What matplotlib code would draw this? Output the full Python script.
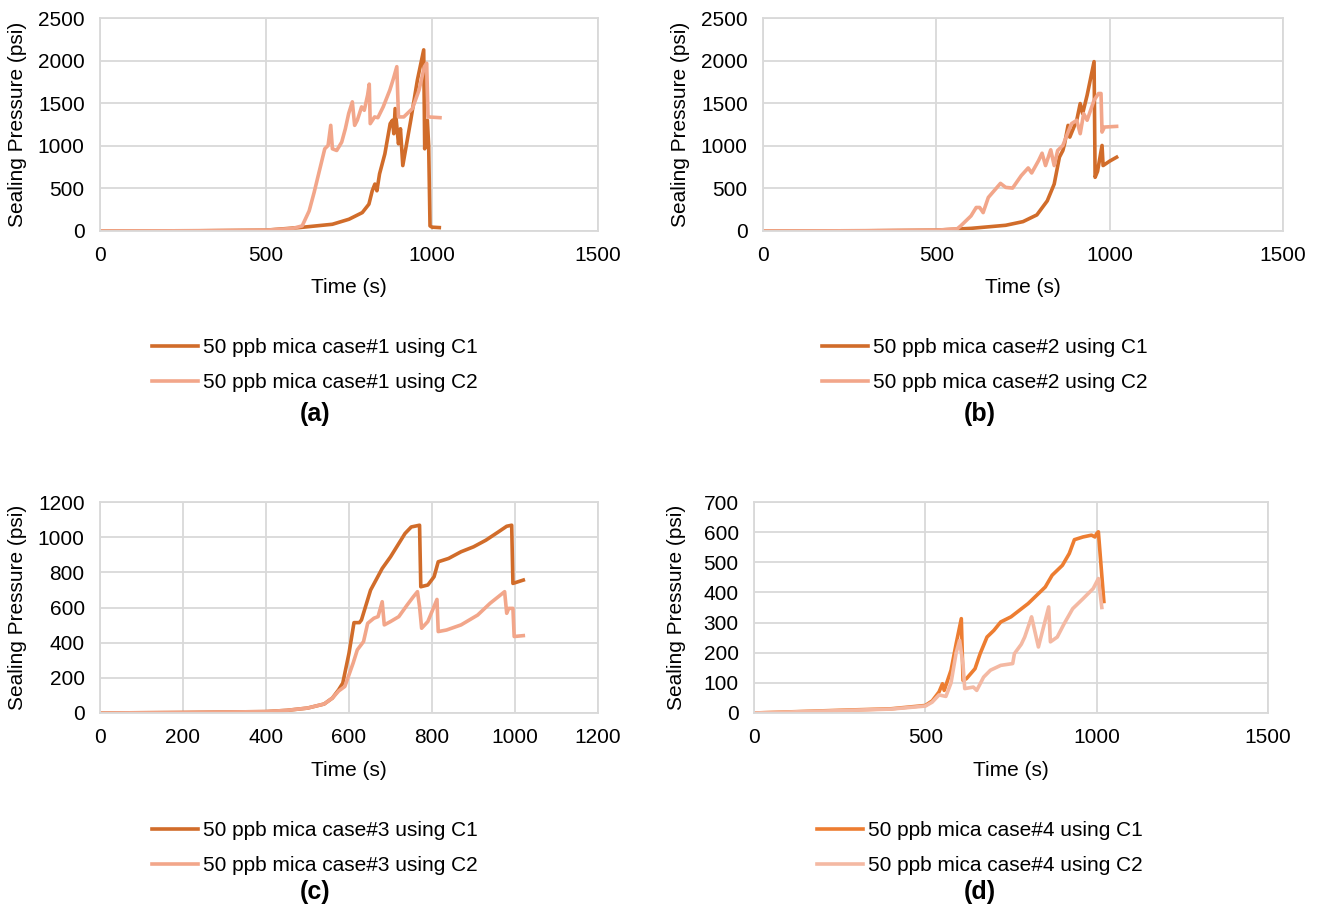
import numpy as np
import matplotlib.pyplot as plt

# ============================================================
# DATA
# ============================================================

# (a) case#1
t_a1 = [0, 300, 500, 600, 700, 750, 790, 810, 820, 828, 834, 842, 858, 874, 881, 885,
        889, 899, 905, 912, 936, 956, 975, 978, 982, 986, 990, 994, 1000, 1022]
p_a1 = [0, 3, 10, 40, 79, 138, 216, 315, 472, 551, 472, 670, 905, 1260, 1300, 1142,
        1437, 1024, 1200, 768, 1300, 1772, 2126, 965, 1240, 1300, 1000, 60, 45, 40]
t_a2 = [0, 300, 500, 580, 609, 630, 645, 656, 677, 687, 695, 700, 713, 728, 739, 749,
        760, 767, 775, 788, 796, 806, 811, 814, 827, 837, 853, 873, 884, 894, 899, 915,
        941, 961, 977, 984, 988, 1024]
p_a2 = [0, 3, 10, 30, 60, 236, 453, 630, 965, 1004, 1240, 965, 945, 1043, 1200, 1378,
        1516, 1240, 1300, 1457, 1417, 1594, 1724, 1260, 1339, 1330, 1457, 1654, 1791, 1929, 1339, 1339,
        1437, 1654, 1929, 1969, 1339, 1330]

# (b) case#2
t_b1 = [0, 300, 500, 600, 700, 750, 790, 820, 840, 855, 865, 870, 880, 885, 905, 915,
        922, 935, 955, 958, 965, 978, 981, 1000, 1020]
p_b1 = [0, 3, 10, 31, 67, 110, 189, 354, 551, 866, 945, 1024, 1240, 1102, 1300, 1496,
        1378, 1594, 1988, 630, 700, 1004, 768, 820, 866]
t_b2 = [0, 300, 500, 560, 570, 580, 600, 615, 625, 635, 650, 660, 685, 700, 720, 745,
        765, 775, 795, 805, 815, 830, 840, 850, 865, 880, 890, 905, 915, 925, 935, 955,
        968, 975, 978, 985, 1020]
p_b2 = [0, 3, 10, 25, 59, 98, 177, 276, 276, 216, 394, 441, 559, 512, 504, 650,
        740, 681, 827, 913, 768, 953, 768, 945, 1004, 1161, 1260, 1300, 1142, 1378, 1300, 1535,
        1614, 1614, 1161, 1220, 1228]

# (c) case#3
t_c1 = [0, 200, 400, 450, 500, 540, 560, 575, 585, 600, 612, 625, 630, 652, 665, 680,
        700, 715, 735, 750, 770, 773, 790, 805, 815, 840, 870, 900, 930, 960, 980, 992,
        995, 1020]
p_c1 = [0, 3, 8, 15, 28, 51, 85, 132, 170, 340, 514, 514, 529, 699, 756, 822,
        888, 945, 1021, 1058, 1068, 718, 728, 775, 860, 879, 917, 945, 983, 1030, 1062, 1068,
        737, 756]
t_c2 = [0, 200, 400, 450, 500, 540, 560, 575, 590, 610, 620, 635, 645, 660, 670, 680,
        685, 700, 720, 740, 755, 765, 770, 775, 790, 812, 815, 835, 870, 910, 940, 975,
        980, 985, 995, 998, 1020]
p_c2 = [0, 3, 8, 15, 28, 51, 85, 125, 151, 284, 359, 406, 510, 539, 548, 633,
        501, 520, 548, 614, 661, 690, 605, 482, 520, 646, 463, 472, 501, 557, 624, 690,
        567, 595, 595, 435, 440]

# (d) case#4
t_d1 = [0, 250, 400, 500, 520, 540, 550, 555, 575, 590, 605, 610, 620, 645, 660, 680,
        700, 720, 750, 775, 800, 830, 850, 870, 900, 920, 935, 960, 985, 995, 1000, 1005,
        1021]
p_d1 = [0, 9, 14, 25, 40, 70, 97, 75, 142, 230, 313, 108, 114, 147, 197, 252,
        274, 302, 319, 341, 363, 396, 418, 457, 490, 529, 575, 584, 590, 584, 595, 601,
        370]
t_d2 = [0, 250, 400, 500, 520, 540, 560, 575, 590, 600, 610, 615, 640, 650, 670, 690,
        720, 755, 760, 780, 790, 805, 810, 830, 860, 865, 885, 905, 930, 960, 990, 1005,
        1015]
p_d2 = [0, 8, 13, 23, 36, 60, 55, 100, 200, 241, 160, 81, 86, 75, 119, 142,
        158, 164, 197, 228, 252, 302, 319, 219, 352, 236, 252, 296, 346, 379, 413, 446,
        350]

PANELS = [
    dict(tag="(a)", case="case#1", s1=(t_a1, p_a1), s2=(t_a2, p_a2),
         xmax=1500, xstep=500, ymax=2500, ystep=500),
    dict(tag="(b)", case="case#2", s1=(t_b1, p_b1), s2=(t_b2, p_b2),
         xmax=1500, xstep=500, ymax=2500, ystep=500),
    dict(tag="(c)", case="case#3", s1=(t_c1, p_c1), s2=(t_c2, p_c2),
         xmax=1200, xstep=200, ymax=1200, ystep=200),
    dict(tag="(d)", case="case#4", s1=(t_d1, p_d1), s2=(t_d2, p_d2),
         xmax=1500, xstep=500, ymax=700, ystep=100),
]

# ============================================================
# LAYOUT (pixels on a 1317x908 canvas)
# ============================================================

W, H = 1317, 908
AX_BOX   = [(100, 18, 598, 231), (763, 18, 1283, 231),
            (100, 502, 598, 713), (754, 502, 1268, 713)]
YLAB_X   = [18, 681, 18, 676]
XLAB_Y   = [287, 287, 770, 770]
LEG_POS  = [(152, 365), (822, 365), (152, 848), (817, 848)]
TAG_POS  = [(315, 414), (980, 414), (315, 892), (980, 892)]
COLORS   = [("#D16C2A", "#F2A68A"), ("#D16C2A", "#F2A68A"),
            ("#D16C2A", "#F2A68A"), ("#ED7D31", "#F4B9A3")]

GRID = "#D9D9D9"
FS = 15

plt.rcParams["font.family"] = ["Liberation Sans", "DejaVu Sans"]

fig = plt.figure(figsize=(W / 100, H / 100), dpi=100)

for i, p in enumerate(PANELS):
    x0, y0, x1, y1 = AX_BOX[i]
    ax = fig.add_axes([x0 / W, 1 - y1 / H, (x1 - x0) / W, (y1 - y0) / H])
    c1, c2 = COLORS[i]

    ax.plot(*p["s1"], color=c1, lw=2.6, label=f"50 ppb mica {p['case']} using C1",
            solid_joinstyle="round")
    ax.plot(*p["s2"], color=c2, lw=2.6, label=f"50 ppb mica {p['case']} using C2",
            solid_joinstyle="round")

    ax.set_xlim(0, p["xmax"])
    ax.set_ylim(0, p["ymax"])
    ax.set_xticks(np.arange(0, p["xmax"] + 1, p["xstep"]))
    ax.set_yticks(np.arange(0, p["ymax"] + 1, p["ystep"]))
    ax.grid(True, color=GRID, lw=1.3)
    ax.set_axisbelow(True)
    for sp in ax.spines.values():
        sp.set_color(GRID)
        sp.set_linewidth(1.3)
    ax.tick_params(length=0, labelsize=FS, pad=11)

    # axis titles placed in figure pixels
    fig.text(YLAB_X[i] / W, 1 - (y0 + y1) / 2 / H, "Sealing Pressure (psi)",
             rotation=90, ha="center", va="center", fontsize=FS)
    fig.text((x0 + x1) / 2 / W, 1 - XLAB_Y[i] / H, "Time (s)",
             ha="center", va="center", fontsize=FS)

    lx, ly = LEG_POS[i]
    fig.legend(handles=ax.get_lines(), loc="center left",
               bbox_to_anchor=(lx / W, 1 - ly / H), frameon=False,
               fontsize=FS, handlelength=2.2, handletextpad=0.25,
               borderpad=0, borderaxespad=0, labelspacing=0.75)

    tx, ty = TAG_POS[i]
    fig.text(tx / W, 1 - ty / H, p["tag"], ha="center", va="center",
             fontsize=FS + 3, fontweight="bold")

fig.savefig("out.png", dpi=100)
